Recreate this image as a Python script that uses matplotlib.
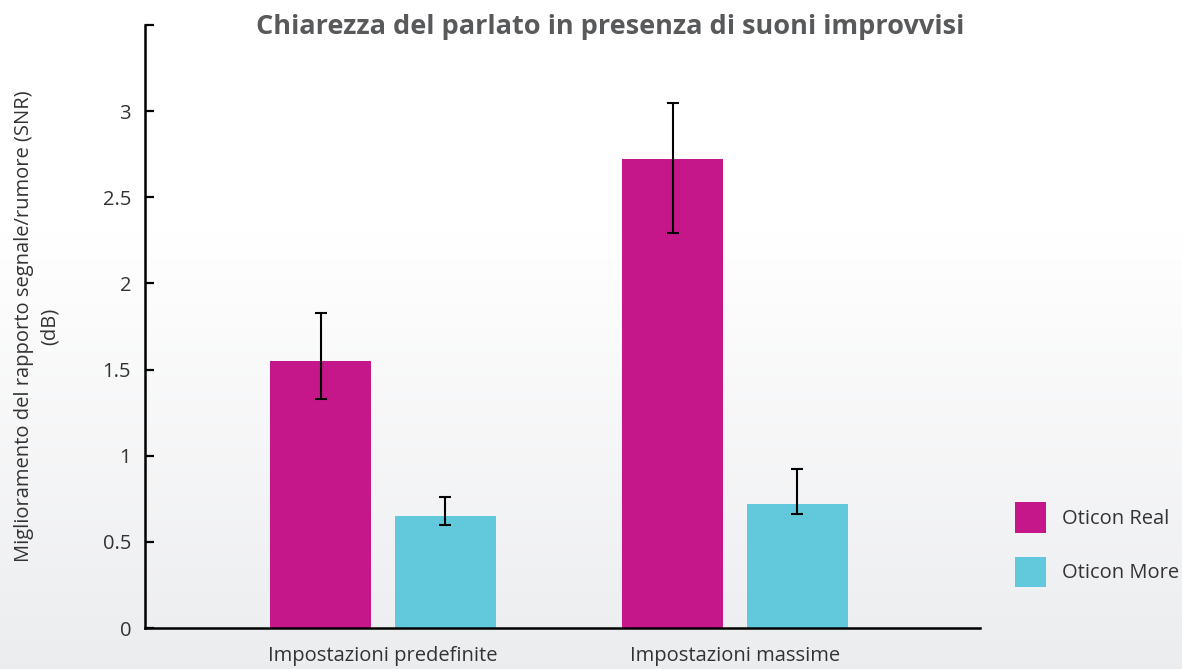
import matplotlib
matplotlib.use("Agg")
import matplotlib.pyplot as plt
import numpy as np
from matplotlib.patches import Patch

plt.rcParams['font.family'] = ['Open Sans', 'DejaVu Sans']

categories = ["Impostazioni predefinite", "Impostazioni massime"]
series = ["Oticon Real", "Oticon More"]
real_vals = [1.55, 2.72]
real_low = [1.33, 2.29]
real_high = [1.83, 3.05]
more_vals = [0.65, 0.72]
more_low = [0.60, 0.66]
more_high = [0.76, 0.92]
colors = ["#c5168a", "#62c9dc"]

fig = plt.figure(figsize=(11.82, 6.69), dpi=100)

# background gradient (white at top, light grey at bottom)
bg = fig.add_axes([0, 0, 1, 1], zorder=-10)
grad = np.linspace(0, 1, 256).reshape(-1, 1)
grad = np.clip((grad - 0.35) / 0.65, 0, 1)
top = np.array([1.0, 1.0, 1.0])
bot = np.array([0.925, 0.929, 0.937])
img = top + (bot - top) * grad[:, :, None]
bg.imshow(img[::-1], aspect='auto', extent=[0, 1, 0, 1], origin='lower')
bg.axis('off')

ax = fig.add_axes([145 / 1182, 41 / 669, 835 / 1182, 603 / 669])
ax.patch.set_alpha(0)

x = np.arange(len(categories))
w = 0.288
off = 0.177
err_kw = dict(ecolor='black', elinewidth=1.5, capsize=4, capthick=1.5)

real_err = [np.array(real_vals) - np.array(real_low), np.array(real_high) - np.array(real_vals)]
more_err = [np.array(more_vals) - np.array(more_low), np.array(more_high) - np.array(more_vals)]
ax.bar(x - off, real_vals, w, color=colors[0], yerr=real_err, error_kw=err_kw)
ax.bar(x + off, more_vals, w, color=colors[1], yerr=more_err, error_kw=err_kw)

ax.set_xlim(-0.676, 1.696)
ax.set_ylim(0, 3.5)
yt = np.arange(0, 3.51, 0.5)
ax.set_yticks(yt)
ax.set_yticklabels([("%g" % v) if v < 3.5 else "" for v in yt])
ax.set_xticks(x)
ax.set_xticklabels(categories)

for s in ['top', 'right']:
    ax.spines[s].set_visible(False)
for s in ['left', 'bottom']:
    ax.spines[s].set_linewidth(1.8)
ax.tick_params(axis='y', direction='in', length=6.5, width=1.6, labelsize=14.5,
               labelcolor='#333333', pad=10)
ax.tick_params(axis='x', length=0, labelsize=14.5, labelcolor='#333333', pad=13)

ax.set_ylabel("Miglioramento del rapporto segnale/rumore (SNR)\n(dB)",
              fontsize=14.5, color='#333333', labelpad=31, linespacing=1.4)

fig.text(610 / 1182, 1 - 27 / 669, "Chiarezza del parlato in presenza di suoni improvvisi",
         ha='center', va='center', fontsize=19.5, fontweight='bold', color='#58595b')

handles = [Patch(facecolor=c, edgecolor='none') for c in colors]
fig.legend(handles, series, loc='upper left', bbox_to_anchor=(997 / 1182, 1 - 484 / 669),
           frameon=False, fontsize=14.5, handlelength=1.55, handleheight=1.95,
           labelspacing=1.2, handletextpad=0.8, labelcolor='#333333')

fig.savefig("out.png", dpi=100)
